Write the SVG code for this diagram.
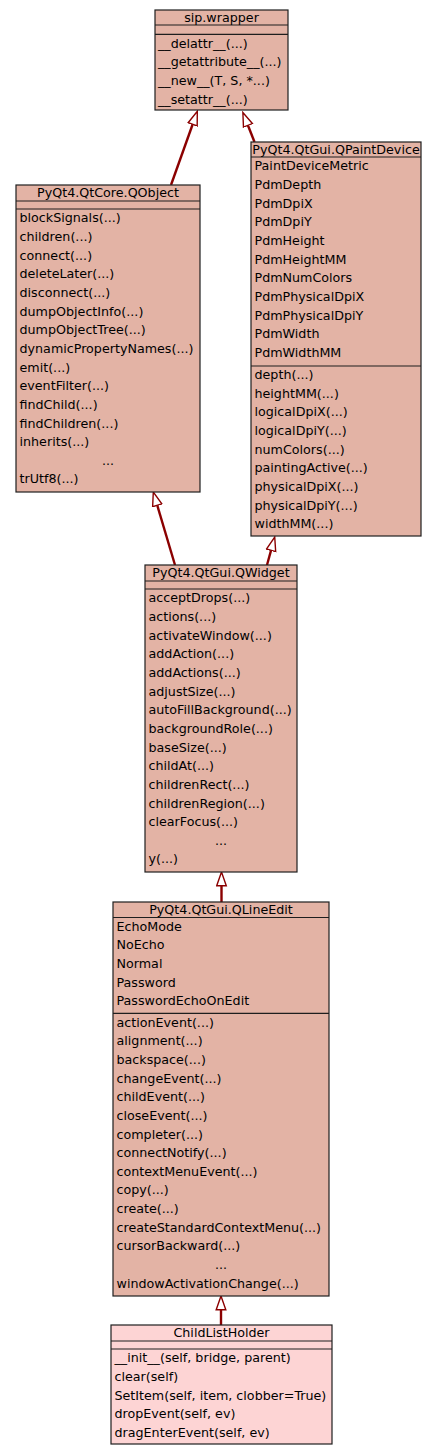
<svg xmlns="http://www.w3.org/2000/svg" width="437" height="1456" viewBox="0 0 437 1456">
<style>
.box{fill:#E3B3A5;stroke:#1e1e1e;stroke-width:1.2}
.box2{fill:#FDD4D4;stroke:#1e1e1e;stroke-width:1.2}
.sep{stroke:#1e1e1e;stroke-width:1.2;fill:none}
text{font-family:"DejaVu Sans","Bitstream Vera Sans",sans-serif;font-size:12.7px;fill:#000}
.c{text-anchor:middle}
.edge{stroke:#8B0000;stroke-width:2.4;fill:none;marker-end:url(#inh)}
</style>
<defs>
<marker id="inh" markerUnits="userSpaceOnUse" viewBox="0 0 16 12" markerWidth="16" markerHeight="12" refX="0.5" refY="6" orient="auto">
<path d="M0.7,1.2 L14.5,6 L0.7,10.8 Z" fill="#fff" stroke="#8B0000" stroke-width="1.4"/>
</marker>
</defs>
<rect width="437" height="1456" fill="#fff"/>
<g id="connectors">
<path class="edge" d="M171,185 L192.6,124.5"/>
<path class="edge" d="M254.5,142 L248,125.5"/>
<path class="edge" d="M175,565 L157.3,505.5"/>
<path class="edge" d="M267,565 L271,550.5"/>
<path class="edge" d="M221.5,902 L221.5,886"/>
<path class="edge" d="M221,1325 L221,1310"/>
</g>
<g id="sip_wrapper">
<rect class="box" x="155" y="10" width="133" height="100"/>
<path class="sep" d="M155,25 H288 M155,34.3 H288"/>
<text class="c" x="221.5" y="21.6">sip.wrapper</text>
<text x="158" y="47.5">__delattr__(...)</text>
<text x="158" y="66.2">__getattribute__(...)</text>
<text x="158" y="84.8">__new__(T, S, *...)</text>
<text x="158" y="103.5">__setattr__(...)</text>
</g>
<g id="QObject">
<rect class="box" x="16" y="185" width="184" height="307"/>
<path class="sep" d="M16,201 H200 M16,209 H200"/>
<text class="c" x="108" y="196.6">PyQt4.QtCore.QObject</text>
<text x="19.5" y="222.2">blockSignals(...)</text>
<text x="19.5" y="240.9">children(...)</text>
<text x="19.5" y="259.5">connect(...)</text>
<text x="19.5" y="278.2">deleteLater(...)</text>
<text x="19.5" y="296.8">disconnect(...)</text>
<text x="19.5" y="315.5">dumpObjectInfo(...)</text>
<text x="19.5" y="334.2">dumpObjectTree(...)</text>
<text x="19.5" y="352.8">dynamicPropertyNames(...)</text>
<text x="19.5" y="371.5">emit(...)</text>
<text x="19.5" y="390.1">eventFilter(...)</text>
<text x="19.5" y="408.8">findChild(...)</text>
<text x="19.5" y="427.5">findChildren(...)</text>
<text x="19.5" y="446.1">inherits(...)</text>
<text class="c" x="108" y="464.8">...</text>
<text x="19.5" y="483.4">trUtf8(...)</text>
</g>
<g id="QPaintDevice">
<rect class="box" x="251" y="142" width="170" height="394"/>
<path class="sep" d="M251,157 H421 M251,366 H421"/>
<text class="c" x="336" y="153.6">PyQt4.QtGui.QPaintDevice</text>
<text x="254.5" y="170.4">PaintDeviceMetric</text>
<text x="254.5" y="189.1">PdmDepth</text>
<text x="254.5" y="207.7">PdmDpiX</text>
<text x="254.5" y="226.4">PdmDpiY</text>
<text x="254.5" y="245.0">PdmHeight</text>
<text x="254.5" y="263.7">PdmHeightMM</text>
<text x="254.5" y="282.4">PdmNumColors</text>
<text x="254.5" y="301.0">PdmPhysicalDpiX</text>
<text x="254.5" y="319.7">PdmPhysicalDpiY</text>
<text x="254.5" y="338.3">PdmWidth</text>
<text x="254.5" y="357.0">PdmWidthMM</text>
<text x="254.5" y="379.1">depth(...)</text>
<text x="254.5" y="397.8">heightMM(...)</text>
<text x="254.5" y="416.4">logicalDpiX(...)</text>
<text x="254.5" y="435.1">logicalDpiY(...)</text>
<text x="254.5" y="453.7">numColors(...)</text>
<text x="254.5" y="472.4">paintingActive(...)</text>
<text x="254.5" y="491.1">physicalDpiX(...)</text>
<text x="254.5" y="509.7">physicalDpiY(...)</text>
<text x="254.5" y="528.4">widthMM(...)</text>
</g>
<g id="QWidget">
<rect class="box" x="145" y="565" width="152" height="307"/>
<path class="sep" d="M145,581 H297 M145,589 H297"/>
<text class="c" x="221" y="576.6">PyQt4.QtGui.QWidget</text>
<text x="148.5" y="602.2">acceptDrops(...)</text>
<text x="148.5" y="620.9">actions(...)</text>
<text x="148.5" y="639.5">activateWindow(...)</text>
<text x="148.5" y="658.2">addAction(...)</text>
<text x="148.5" y="676.8">addActions(...)</text>
<text x="148.5" y="695.5">adjustSize(...)</text>
<text x="148.5" y="714.2">autoFillBackground(...)</text>
<text x="148.5" y="732.8">backgroundRole(...)</text>
<text x="148.5" y="751.5">baseSize(...)</text>
<text x="148.5" y="770.1">childAt(...)</text>
<text x="148.5" y="788.8">childrenRect(...)</text>
<text x="148.5" y="807.5">childrenRegion(...)</text>
<text x="148.5" y="826.1">clearFocus(...)</text>
<text class="c" x="221" y="844.8">...</text>
<text x="148.5" y="863.4">y(...)</text>
</g>
<g id="QLineEdit">
<rect class="box" x="113" y="902" width="216" height="394"/>
<path class="sep" d="M113,917.5 H329 M113,1013.3 H329"/>
<text class="c" x="221" y="913.6">PyQt4.QtGui.QLineEdit</text>
<text x="116.5" y="930.7">EchoMode</text>
<text x="116.5" y="949.4">NoEcho</text>
<text x="116.5" y="968.0">Normal</text>
<text x="116.5" y="986.7">Password</text>
<text x="116.5" y="1005.3">PasswordEchoOnEdit</text>
<text x="116.5" y="1026.5">actionEvent(...)</text>
<text x="116.5" y="1045.2">alignment(...)</text>
<text x="116.5" y="1063.8">backspace(...)</text>
<text x="116.5" y="1082.5">changeEvent(...)</text>
<text x="116.5" y="1101.1">childEvent(...)</text>
<text x="116.5" y="1119.8">closeEvent(...)</text>
<text x="116.5" y="1138.5">completer(...)</text>
<text x="116.5" y="1157.1">connectNotify(...)</text>
<text x="116.5" y="1175.8">contextMenuEvent(...)</text>
<text x="116.5" y="1194.4">copy(...)</text>
<text x="116.5" y="1213.1">create(...)</text>
<text x="116.5" y="1231.8">createStandardContextMenu(...)</text>
<text x="116.5" y="1250.4">cursorBackward(...)</text>
<text class="c" x="221" y="1269.1">...</text>
<text x="116.5" y="1287.7">windowActivationChange(...)</text>
</g>
<g id="ChildListHolder">
<rect class="box2" x="111" y="1325" width="221" height="119"/>
<path class="sep" d="M111,1341 H332 M111,1349 H332"/>
<text class="c" x="221.5" y="1336.6">ChildListHolder</text>
<text x="114.5" y="1362.2">__init__(self, bridge, parent)</text>
<text x="114.5" y="1380.9">clear(self)</text>
<text x="114.5" y="1399.5">SetItem(self, item, clobber=True)</text>
<text x="114.5" y="1418.2">dropEvent(self, ev)</text>
<text x="114.5" y="1436.8">dragEnterEvent(self, ev)</text>
</g>
</svg>
